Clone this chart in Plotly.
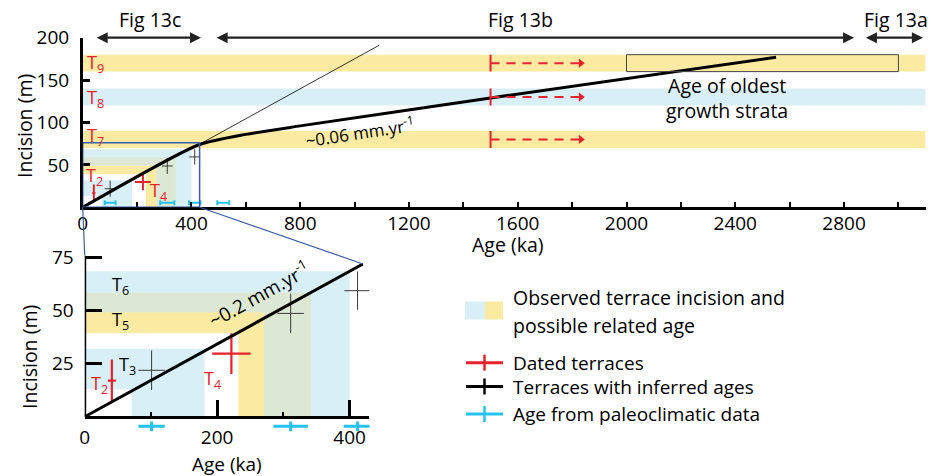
import plotly.graph_objects as go

W, H = 931, 476
FONT = "Open Sans"

# ------------------------------------------------------------------ data
main_tickvals = list(range(0, 3001, 200))
main_ticktext = [str(v) if v % 400 == 0 else "" for v in main_tickvals]
main_yticks = [50, 100, 150, 200]
inset_xticks = [0, 200, 400]
inset_xminor = [100, 300]
inset_yticks = [25, 50, 75]

# incision profile
profile_age = [0, 425, 600, 800, 1500, 2550]
profile_inc = [0, 73.5, 86, 96, 129, 177]
extrap_age = [425, 1090]
extrap_inc = [73.5, 191]
inset_line_age = [0, 420]
inset_line_inc = [0, 72]

# upper terraces (observed incision range)
upper_names = ["T7", "T8", "T9"]
upper_lo = [70, 120, 160]
upper_hi = [90, 140, 180]
upper_col = ["yellow", "blue", "yellow"]
upper_min_age = 1500
upper_arrow_end = 1840

# lower terraces: incision range + possible related age range
low_names = ["T3", "T5", "T6"]
low_inc_lo = [13, 39.4, 49.3]
low_inc_hi = [32, 58.6, 68.5]
low_age_lo = [71, 232, 271]
low_age_hi = [181, 342, 400]
low_col = ["blue", "yellow", "blue"]

# dated terraces (red)
dated_names = ["T2", "T4"]
dated_age = [41, 221.5]
dated_age_err = [6, 29]
dated_inc = [17, 29.8]
dated_inc_err = [10, 9.6]

# terraces with inferred ages (black)
inf_age = [101, 311, 412]
inf_age_err = [20, 20, 20]
inf_inc = [21.9, 48.7, 59.4]
inf_inc_err = [9.3, 9.3, 9.0]

# ages from paleoclimatic data (cyan)
paleo_age = [101, 311, 412, 517]
paleo_err = [20, 26, 21, 22]

# age of oldest growth strata
strata_age = [2000, 3000]
strata_inc = [160, 180]

# ------------------------------------------------------------------ style / geometry
COL = {"blue": "#d8eff6", "yellow": "#fbeaa2", "green": "#dde8d4"}
RED = "#e8212b"
CYAN = "#27c3f0"
FRAME = "#3b5ca8"

MXR = [0, 3100]; MYR = [0, 200]
IXR = [0, 430]; IYR = [-8, 76]
MX0, MX1 = 82.7, 82.7 + 3100 * 0.2719
MYB, MYT = 207.3, 37.7
IX0, IX1 = 84.7, 84.7 + 430 * 0.6623
IY0 = 416.8                      # pixel row of inset incision = 0
IYB, IYT = IY0 + 8 * 2.123, IY0 - 76 * 2.123


def px(v):
    return v / W


def py(v):
    return 1 - v / H


def main_to_px(a, z):
    return (MX0 + (a - MXR[0]) / (MXR[1] - MXR[0]) * (MX1 - MX0),
            MYB - (z - MYR[0]) / (MYR[1] - MYR[0]) * (MYB - MYT))


def inset_to_px(a, z):
    return (IX0 + (a - IXR[0]) / (IXR[1] - IXR[0]) * (IX1 - IX0),
            IYB - (z - IYR[0]) / (IYR[1] - IYR[0]) * (IYB - IYT))


def lshape(lo, hi, alo, ahi):
    xs = [0, ahi, ahi, alo, alo, 0, 0]
    ys = [hi, hi, 0, 0, lo, lo, hi]
    return xs, ys


fig = go.Figure()


def add_bands(xa, ya):
    if xa == "x":
        for lo, hi, c in zip(upper_lo, upper_hi, upper_col):
            fig.add_trace(go.Scatter(x=[0, MXR[1], MXR[1], 0, 0], y=[lo, lo, hi, hi, lo],
                                     fill="toself", fillcolor=COL[c], mode="lines",
                                     line=dict(width=0), hoverinfo="skip",
                                     xaxis=xa, yaxis=ya))
    for lo, hi, alo, ahi, c in zip(low_inc_lo, low_inc_hi, low_age_lo, low_age_hi, low_col):
        xs, ys = lshape(lo, hi, alo, ahi)
        fig.add_trace(go.Scatter(x=xs, y=ys, fill="toself", fillcolor=COL[c], mode="lines",
                                 line=dict(width=0), hoverinfo="skip", xaxis=xa, yaxis=ya))
    n = len(low_names)
    for i in range(n):
        for j in range(i + 1, n):
            if low_col[i] == low_col[j]:
                continue
            lo = max(low_inc_lo[i], low_inc_lo[j]); hi = min(low_inc_hi[i], low_inc_hi[j])
            alo = max(low_age_lo[i], low_age_lo[j]); ahi = min(low_age_hi[i], low_age_hi[j])
            if lo < hi and alo < ahi:
                xs, ys = lshape(lo, hi, alo, ahi)
                fig.add_trace(go.Scatter(x=xs, y=ys, fill="toself", fillcolor=COL["green"],
                                         mode="lines", line=dict(width=0), hoverinfo="skip",
                                         xaxis=xa, yaxis=ya))


def add_crosses(xa, ya, scale):
    fig.add_trace(go.Scatter(
        x=inf_age, y=inf_inc, mode="markers", marker=dict(size=1, color="rgba(0,0,0,0)"),
        error_x=dict(type="data", array=inf_age_err, color="#3a3a3a", thickness=1, width=0),
        error_y=dict(type="data", array=inf_inc_err, color="#3a3a3a", thickness=1, width=0),
        xaxis=xa, yaxis=ya, hoverinfo="skip"))
    fig.add_trace(go.Scatter(
        x=dated_age, y=dated_inc, mode="markers", marker=dict(size=1, color="rgba(0,0,0,0)"),
        error_x=dict(type="data", array=dated_age_err, color=RED, thickness=2.2 * scale, width=0),
        error_y=dict(type="data", array=dated_inc_err, color=RED, thickness=2.2 * scale, width=0),
        xaxis=xa, yaxis=ya, hoverinfo="skip"))


# ---------------- main chart
add_bands("x", "y")
add_crosses("x", "y", 0.9)
fig.add_trace(go.Scatter(x=extrap_age, y=extrap_inc, mode="lines",
                         line=dict(color="black", width=0.8), hoverinfo="skip"))
fig.add_trace(go.Scatter(x=profile_age, y=profile_inc, mode="lines", line_shape="spline",
                         line=dict(color="black", width=3, smoothing=0.6), hoverinfo="skip"))
fig.add_trace(go.Scatter(
    x=paleo_age, y=[5.4] * len(paleo_age), mode="markers",
    marker=dict(size=1, color="rgba(0,0,0,0)"),
    error_x=dict(type="data", array=paleo_err, color=CYAN, thickness=2, width=2.5),
    hoverinfo="skip"))
for lo, hi in zip(upper_lo, upper_hi):
    mid = (lo + hi) / 2
    fig.add_trace(go.Scatter(x=[upper_min_age, upper_min_age], y=[lo, hi], mode="lines",
                             line=dict(color=RED, width=2), hoverinfo="skip"))
    fig.add_trace(go.Scatter(x=[upper_min_age, upper_arrow_end - 15], y=[mid, mid], mode="lines",
                             line=dict(color=RED, width=2, dash="9px,7px"), hoverinfo="skip"))
    fig.add_trace(go.Scatter(x=[upper_arrow_end - 8], y=[mid], mode="markers",
                             marker=dict(symbol="triangle-right", size=8, color=RED),
                             hoverinfo="skip"))

# ---------------- inset
add_bands("x2", "y2")
add_crosses("x2", "y2", 1.0)
fig.add_trace(go.Scatter(x=inset_line_age, y=inset_line_inc, mode="lines",
                         line=dict(color="black", width=3), xaxis="x2", yaxis="y2",
                         hoverinfo="skip"))
fig.add_trace(go.Scatter(
    x=paleo_age, y=[-4.5] * len(paleo_age), mode="markers",
    marker=dict(symbol="line-ns", size=7, line=dict(color=CYAN, width=3)),
    error_x=dict(type="data", array=paleo_err, color=CYAN, thickness=3, width=0),
    xaxis="x2", yaxis="y2", hoverinfo="skip"))

# ---------------- shapes
shapes = []
shapes.append(dict(type="rect", xref="x", yref="y", x0=strata_age[0], x1=strata_age[1],
                   y0=strata_inc[0], y1=strata_inc[1], line=dict(color="#444", width=1)))
shapes.append(dict(type="rect", xref="x", yref="y", x0=IXR[0], x1=IXR[1], y0=0, y1=IYR[1],
                   line=dict(color=FRAME, width=1.5), layer="above"))
shapes.append(dict(type="line", xref="x2", yref="y2", x0=0, x1=0, y0=0, y1=IYR[1],
                   line=dict(color="black", width=3)))
a0, b0 = main_to_px(0, 0)
a1, b1 = inset_to_px(0, IYR[1])
shapes.append(dict(type="line", xref="paper", yref="paper", x0=px(a0), y0=py(b0),
                   x1=px(a1), y1=py(b1), line=dict(color=FRAME, width=1.2)))
a0, b0 = main_to_px(IXR[1], 0)
a1, b1 = inset_to_px(inset_line_age[-1], inset_line_inc[-1])
shapes.append(dict(type="line", xref="paper", yref="paper", x0=px(a0), y0=py(b0),
                   x1=px(a1), y1=py(b1), line=dict(color=FRAME, width=1.2)))

shapes.append(dict(type="rect", xref="paper", yref="paper", x0=px(465), x1=px(485),
                   y0=py(319.5), y1=py(301.5), fillcolor=COL["blue"], line=dict(width=0)))
shapes.append(dict(type="rect", xref="paper", yref="paper", x0=px(485), x1=px(503),
                   y0=py(319.5), y1=py(301.5), fillcolor=COL["yellow"], line=dict(width=0)))
for yy, c in [(362.7, RED), (386.5, "black"), (414, CYAN)]:
    shapes.append(dict(type="line", xref="paper", yref="paper", x0=px(466), x1=px(503),
                       y0=py(yy), y1=py(yy), line=dict(color=c, width=3)))
    shapes.append(dict(type="line", xref="paper", yref="paper", x0=px(484.5), x1=px(484.5),
                       y0=py(yy - 8), y1=py(yy + 8), line=dict(color=c, width=2.5)))

# ---------------- annotations
ann = []


def txt(text, x, y, xref="paper", yref="paper", size=19, color="black", xanchor="center",
        yanchor="middle", angle=0):
    if xref == "paper":
        x = px(x)
    if yref == "paper":
        y = py(y)
    ann.append(dict(text=text, x=x, y=y, xref=xref, yref=yref, showarrow=False,
                    font=dict(family=FONT, size=size, color=color), xanchor=xanchor,
                    yanchor=yanchor, textangle=angle, borderpad=0))


for a_from, a_to, label, lx in [(46, 435, "Fig 13c", 150), (487, 2837, "Fig 13b", 520),
                                (2875, 3090, "Fig 13a", 896)]:
    ann.append(dict(x=a_to, y=200, ax=a_from, ay=200, xref="x", yref="y", axref="x", ayref="y",
                    text="", showarrow=True, arrowhead=2, arrowside="end+start", arrowsize=1,
                    arrowwidth=2.2, arrowcolor="#222", standoff=0, startstandoff=0))
    txt(label, lx, 20, size=19.5)

for name, z in zip(upper_names, [84, 128, 170]):
    txt("T<sub>%s</sub>" % name[1:], 12, z, xref="x", yref="y", size=18, color=RED,
        xanchor="left")
txt("T<sub>2</sub>", 10, 36, xref="x", yref="y", size=18, color=RED, xanchor="left")
txt("T<sub>4</sub>", 245, 19, xref="x", yref="y", size=18, color=RED, xanchor="left")

txt("T<sub>6</sub>", 40, 62, xref="x2", yref="y2", size=18, xanchor="left")
txt("T<sub>5</sub>", 40, 45.5, xref="x2", yref="y2", size=18, xanchor="left")
txt("T<sub>3</sub>", 51, 24, xref="x2", yref="y2", size=18, xanchor="left")
txt("T<sub>2</sub>", 8, 15, xref="x2", yref="y2", size=18, color=RED, xanchor="left")
txt("T<sub>4</sub>", 178, 17.5, xref="x2", yref="y2", size=18, color=RED, xanchor="left")

txt("~0.06 mm.yr<sup>-1</sup>", 1020, 89, xref="x", yref="y", size=17, angle=-8.5)
txt("~0.2 mm.yr<sup>-1</sup>", 263, 58, xref="x2", yref="y2", size=19, angle=-29)

txt("Age of oldest<br>growth strata", 2142, 128.5, xref="x", yref="y", size=19.5,
    xanchor="left")

txt("Incision (m)", 25, 126, size=19.5, angle=-90)
txt("Age (ka)", 508, 245, size=19.5)
txt("Incision (m)", 29, 357, size=19.5, angle=-90)
txt("Age (ka)", 227, 464, size=19)

txt("Observed terrace incision and", 511.7, 297.3, size=19.5, xanchor="left")
txt("possible related age", 511.7, 325, size=19.5, xanchor="left")
txt("Dated terraces", 511.7, 362.7, size=19, xanchor="left")
txt("Terraces with inferred ages", 511.7, 386.5, size=19, xanchor="left")
txt("Age from paleoclimatic data", 511.7, 414, size=19, xanchor="left")

# ---------------- layout
axis_font = dict(family=FONT, size=19, color="black")
common = dict(showgrid=False, zeroline=False, automargin=False, tickcolor="black",
              tickfont=axis_font)
fig.update_layout(
    width=W, height=H, margin=dict(l=0, r=0, t=0, b=0, pad=0, autoexpand=False),
    paper_bgcolor="white", plot_bgcolor="rgba(0,0,0,0)", showlegend=False,
    font=dict(family=FONT, size=18, color="black"),
    shapes=shapes, annotations=ann,
    xaxis=dict(domain=[px(MX0), px(MX1)], range=MXR, anchor="y",
               showline=True, linecolor="black", linewidth=2.5,
               tickvals=main_tickvals, ticktext=main_ticktext, ticks="inside", ticklen=6,
               tickwidth=2, ticklabelstandoff=-3, **common),
    yaxis=dict(domain=[py(MYB), py(MYT)], range=MYR, anchor="x",
               showline=True, linecolor="black", linewidth=2.5,
               tickvals=main_yticks, ticks="inside", ticklen=8, tickwidth=2.5,
               ticklabelstandoff=7, **common),
    xaxis2=dict(domain=[px(IX0), px(IX1)], range=IXR, anchor="free", position=py(IY0),
                showline=True, linecolor="black",
                linewidth=3, tickvals=inset_xticks, ticks="inside", ticklen=16, tickwidth=3,
                ticklabelstandoff=2,
                minor=dict(tickvals=inset_xminor, ticks="inside", ticklen=4, tickwidth=2,
                           tickcolor="black"), **common),
    yaxis2=dict(domain=[py(IYB), py(IYT)], range=IYR, anchor="x2",
                showline=False, tickvals=inset_yticks, ticks="inside",
                ticklen=17, tickwidth=3, ticklabelstandoff=10, **common),
)

fig.write_html("out.html", config={"displayModeBar": False},
               post_script="document.body.style.margin='0';")
